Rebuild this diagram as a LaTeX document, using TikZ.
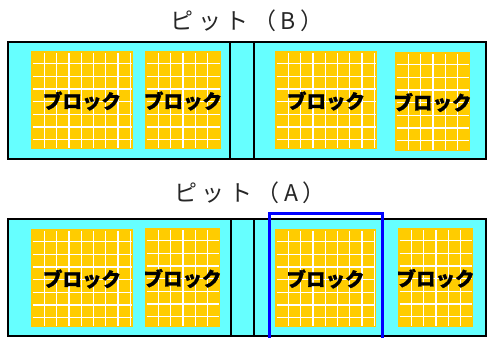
\documentclass[tikz,border=0pt]{standalone}
\usepackage{fontspec}
\setmainfont{Noto Sans CJK JP}
\definecolor{pitcyan}{RGB}{102,255,255}
\definecolor{blockyellow}{RGB}{255,204,0}
\definecolor{pitblue}{RGB}{0,0,255}
\tikzset{
  pitwall/.style={draw=black,line width=1.6pt},
  pitfill/.style={fill=pitcyan},
  gridline/.style={draw=white,line width=1.2pt},
  blocklabel/.style={font=\fontsize{19.5}{21}\selectfont\bfseries\addfontfeature{FakeBold=1.2},text=black,inner sep=0pt},
  pittitle/.style={font=\fontsize{23}{25}\selectfont\addfontfeature{LetterSpace=20},text=black!85,inner sep=0pt},
  selbox/.style={draw=pitblue,line width=3pt}
}
\newcommand\blk[5]{%
  \fill[blockyellow] (#2,#3) rectangle (#4,#5);
  \pgfmathsetmacro\xa{#2+13.5}\pgfmathsetmacro\xb{#2+13.5+12.25}\pgfmathsetmacro\xe{#4-1.5}%
  \foreach \x in {\xa,\xb,...,\xe} \draw[gridline] (\x,#3+2) -- (\x,#5-1);
  \pgfmathsetmacro\ya{#3+12.5}\pgfmathsetmacro\yb{#3+12.5+12.7}\pgfmathsetmacro\ye{#5-5}%
  \foreach \y in {\ya,\yb,...,\ye} \draw[gridline] (#2+1.5,\y) -- (#4-1.5,\y);
  \node[blocklabel] (#1) at ({(#2+#4)/2},{(#3+#5)/2+1}) {ブロック};
}
\begin{document}
\begin{tikzpicture}[x=1pt,y=-1pt]
\useasboundingbox[fill=white] (0,0) rectangle (487,338);
% titles
\node[pittitle] (titleB) at (247,21) {ピット（B）};
\node[pittitle] (titleA) at (250,193) {ピット（A）};
% pit B
\fill[pitfill] (8,42) rectangle (486,159);
\draw[pitwall] (230,42) -- (230,159);
\draw[pitwall] (254,42) -- (254,159);
\draw[pitwall] (8,42) rectangle (486,159);
\blk{b1}{31}{51}{133}{149}
\blk{b2}{145}{51}{221}{149}
\blk{b3}{275}{51}{377}{149}
\blk{b4}{395}{52}{470}{151}
% pit A
\fill[pitfill] (8,219) rectangle (486,336);
\draw[pitwall] (231,219) -- (231,336);
\draw[pitwall] (254,219) -- (254,336);
\draw[pitwall] (8,219) rectangle (486,336);
\blk{a1}{31}{229}{133}{327}
\blk{a2}{145}{228}{220}{327}
\blk{a3}{275}{229}{376}{327}
\blk{a4}{398}{228}{473}{327}
% selection frame
\draw[selbox] (269.5,338) -- (269.5,213.5) -- (382.5,213.5) -- (382.5,338);
\end{tikzpicture}
\end{document}
